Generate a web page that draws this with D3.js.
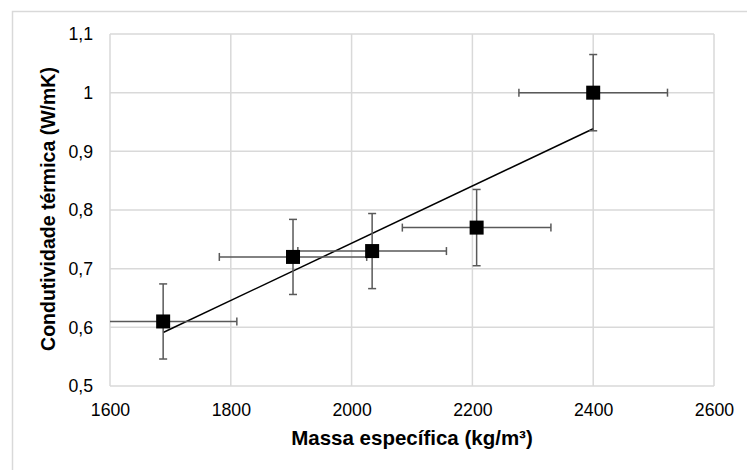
<!DOCTYPE html>
<html>
<head>
<meta charset="utf-8">
<script src="https://cdn.jsdelivr.net/npm/d3@7"></script>
<style>
  body { margin: 0; background: #fff; }
  text { font-family: "Liberation Sans", Arial, sans-serif; }
</style>
</head>
<body>
<div id="chart-area"></div>
<script>
// dados
var massa = [1688, 1903, 2034, 2207, 2400];
var condutividade = [0.61, 0.72, 0.73, 0.77, 1.0];
var erroX = [122, 122, 123, 123, 123];
var erroY = [0.064, 0.064, 0.064, 0.065, 0.065];
var xTicks = [1600, 1800, 2000, 2200, 2400, 2600];
var yTicks = [0.5, 0.6, 0.7, 0.8, 0.9, 1.0, 1.1];

var width = 747, height = 470;
var plotLeft = 110, plotRight = 714, plotTop = 34, plotBottom = 386;

var svg = d3.select("#chart-area").append("svg")
    .attr("width", width)
    .attr("height", height);

// moldura externa (cortada à direita e embaixo)
svg.append("path")
    .attr("d", "M12.5," + (height + 2) + "V11.5H" + (width + 2))
    .attr("fill", "none")
    .attr("stroke", "#d9d9d9")
    .attr("stroke-width", 1.5);

var x = d3.scaleLinear().domain([1600, 2600]).range([plotLeft, plotRight]);
var y = d3.scaleLinear().domain([0.5, 1.1]).range([plotBottom, plotTop]);

var fmt = function(d) { return d3.format("~g")(d).replace(".", ","); };

// grade
svg.append("g").selectAll("line").data(yTicks).enter().append("line")
    .attr("x1", plotLeft).attr("x2", plotRight)
    .attr("y1", d => y(d)).attr("y2", d => y(d))
    .attr("stroke", "#d9d9d9").attr("stroke-width", 1.5);

svg.append("g").selectAll("line").data(xTicks).enter().append("line")
    .attr("x1", d => x(d)).attr("x2", d => x(d))
    .attr("y1", plotTop).attr("y2", plotBottom)
    .attr("stroke", "#d9d9d9").attr("stroke-width", 1.5);

// eixos (só os rótulos)
var xAxis = svg.append("g")
    .attr("transform", "translate(0," + plotBottom + ")")
    .call(d3.axisBottom(x).tickValues(xTicks).tickSize(0).tickPadding(17).tickFormat(d3.format("d")));
var yAxis = svg.append("g")
    .attr("transform", "translate(" + plotLeft + ",0)")
    .call(d3.axisLeft(y).tickValues(yTicks).tickSize(0).tickPadding(17).tickFormat(fmt));
[xAxis, yAxis].forEach(function(a) {
    a.select(".domain").remove();
    a.selectAll("text")
        .attr("fill", "#000")
        .style("font-size", "17.7px")
        .style("font-family", "'Liberation Sans', Arial, sans-serif");
});

// linha de tendência (regressão linear)
var mx = d3.mean(massa), my = d3.mean(condutividade);
var sxy = d3.sum(massa, (d, i) => (d - mx) * (condutividade[i] - my));
var sxx = d3.sum(massa, d => (d - mx) * (d - mx));
var slope = sxy / sxx, inter = my - slope * mx;
var ext = d3.extent(massa);
svg.append("line")
    .attr("x1", x(ext[0])).attr("y1", y(inter + slope * ext[0]))
    .attr("x2", x(ext[1])).attr("y2", y(inter + slope * ext[1]))
    .attr("stroke", "#000").attr("stroke-width", 1.5);

// barras de erro
var cap = 4;
var eb = svg.append("g").attr("stroke", "#595959").attr("stroke-width", 1.5);
massa.forEach(function(m, i) {
    var c = condutividade[i];
    var x0 = Math.max(m - erroX[i], 1600), x1 = Math.min(m + erroX[i], 2600);
    eb.append("line")
        .attr("x1", x(x0)).attr("x2", x(x1))
        .attr("y1", y(c)).attr("y2", y(c));
    if (m - erroX[i] >= 1600) {
        eb.append("line").attr("x1", x(x0)).attr("x2", x(x0))
            .attr("y1", y(c) - cap).attr("y2", y(c) + cap);
    }
    eb.append("line").attr("x1", x(x1)).attr("x2", x(x1))
        .attr("y1", y(c) - cap).attr("y2", y(c) + cap);
    eb.append("line")
        .attr("x1", x(m)).attr("x2", x(m))
        .attr("y1", y(c - erroY[i])).attr("y2", y(c + erroY[i]));
    [c - erroY[i], c + erroY[i]].forEach(function(v) {
        eb.append("line").attr("x1", x(m) - cap).attr("x2", x(m) + cap)
            .attr("y1", y(v)).attr("y2", y(v));
    });
});

// marcadores
var s = 14;
svg.append("g").selectAll("rect").data(massa).enter().append("rect")
    .attr("x", d => x(d) - s / 2)
    .attr("y", (d, i) => y(condutividade[i]) - s / 2)
    .attr("width", s).attr("height", s)
    .attr("fill", "#000");

// títulos dos eixos
svg.append("text")
    .attr("x", (plotLeft + plotRight) / 2)
    .attr("y", 445)
    .attr("text-anchor", "middle")
    .style("font-size", "20.5px")
    .style("font-weight", "bold")
    .text("Massa específica (kg/m³)");

svg.append("text")
    .attr("transform", "translate(55,209) rotate(-90)")
    .attr("text-anchor", "middle")
    .style("font-size", "19.5px")
    .style("font-weight", "bold")
    .text("Condutividade térmica (W/mK)");
</script>
</body>
</html>
